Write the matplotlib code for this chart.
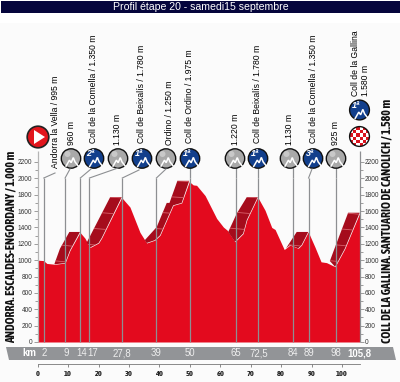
import numpy as np
import matplotlib
matplotlib.use("Agg")
import matplotlib.pyplot as plt
from matplotlib.patches import Circle, Polygon, Rectangle

W, H = 400, 382

# front outline of the profile
profile_km = [0, 1.9, 3, 5.7, 9, 10.6, 13.9, 15.5, 17.2, 20, 21, 27.6, 30.3, 33.6, 35.2, 35.8, 38.5, 40.2,
              44.5, 47.3, 49.8, 51.1, 52.2, 55, 58.8, 61, 62.3, 64.8, 67.5, 68.7, 72.3, 74.7, 76.9, 78,
              81, 82.9, 85.6, 86.7, 88.9, 91.1, 93.1, 94.9, 97.7, 100.9, 105.8]
profile_alt = [1000, 995, 960, 950, 965, 1120, 1340, 1270, 1155, 1210, 1270, 1765, 1650, 1340, 1245, 1210, 1245, 1305,
               1670, 1700, 1960, 1920, 1915, 1790, 1510, 1405, 1365, 1225, 1325, 1490, 1770, 1610, 1400, 1375,
               1130, 1185, 1145, 1185, 1345, 1160, 980, 970, 920, 1140, 1575]

# back edge of the dark climb ramps
ramp1_km, ramp1_alt = [5.5, 7.3, 10.4, 13.9], [955, 1140, 1345, 1345]
ramp2_km, ramp2_alt = [16.1, 23.8, 27.6], [1215, 1770, 1770]
ramp3_km, ramp3_alt = [35.2, 39.1, 42.4, 43.3, 45.9, 49.8], [1245, 1405, 1700, 1700, 1970, 1970]
ramp4_km, ramp4_alt = [62.6, 65.4, 68.7, 72.3], [1345, 1570, 1770, 1770]
ramp5_km, ramp5_alt = [81.6, 85.1, 88.9], [1145, 1345, 1345]
ramp6_km, ramp6_alt = [96, 97.1, 102, 105.8], [990, 1100, 1580, 1580]

point_km = [2, 9, 14, 17, 27.8, 39, 50, 65, 72.5, 84, 89, 98, 105.8]
point_labels = ['2', '9', '14', '17', '27,8', '39', '50', '65', '72,5', '84', '89', '98', '105,8']
label_nudge = [0.5, 1, 1, 3, 0, 0, 0, 0, 0, 0, 0, 0, 0]
icon_x = [71, 94, 118, 142, 166, 190, 235, 258, 290, 313, 336]
icon_cat = ['', '2ª', '', '1ª', '', '1ª', '', '1ª', '', '3ª', '']
names = ['960 m', 'Coll de la Comella / 1.350 m', '1.130 m', 'Coll de Beixalís / 1.780 m', 'Ordino / 1.250 m',
         'Coll de Ordino / 1.975 m', '1.220 m', 'Coll de Beixalís / 1.780 m', '1.130 m',
         'Coll de la Comella / 1.350 m', '925 m']
name_x = [71, 94, 118, 142, 169, 190, 235, 258, 290, 313, 335]

RED = '#e30a1e'
DARK = '#a50c1c'
BLUE = '#123f8c'
LINE = '#8d8f92'
NARROW = ['Asap Condensed', 'Liberation Sans']

fig = plt.figure(figsize=(W / 100, H / 100), dpi=100, facecolor='white')

# page tint and title bar
bg = fig.add_axes([0, 0, 1, 1], zorder=0)
bg.set_xlim(0, W)
bg.set_ylim(H, 0)
bg.axis('off')
bg.add_patch(Rectangle((0, 23), W, H - 23, color='#fbfbfb', lw=0))
bg.add_patch(Rectangle((1, 1), W - 1, 12, color='#05053c', lw=0))
bg.add_patch(Polygon([(6, 347), (393, 347), (396, 360), (9, 360)], color='#929497', lw=0))
bg.text(200.5, 7, 'Profil étape 20 - samedi15 septembre', color='white', ha='center', va='center',
        fontsize=7.55, family='Liberation Sans')

# main profile axes, pixel box is 37.7..359.7 / 162..342
ax = fig.add_axes([37.7 / W, 1 - 342 / H, 322 / W, 180 / H], zorder=2)
ax.patch.set_alpha(0)
ax.set_xlim(0, 105.8)
ax.set_ylim(0, 2200)
ax.fill_between(profile_km, profile_alt, 0, color=RED, lw=0, zorder=3)

ramps = [(ramp1_km, ramp1_alt), (ramp2_km, ramp2_alt), (ramp3_km, ramp3_alt),
         (ramp4_km, ramp4_alt), (ramp5_km, ramp5_alt), (ramp6_km, ramp6_alt)]
for rk, ra in ramps:
    # band runs along the back edge and returns along the front outline
    fk = [k for k in profile_km if rk[0] < k < rk[-1]]
    fa = [a for k, a in zip(profile_km, profile_alt) if rk[0] < k < rk[-1]]
    pts = list(zip(rk, ra)) + list(zip(fk[::-1], fa[::-1]))
    band = Polygon(pts, color=DARK, lw=0, zorder=4)
    ax.add_patch(band)
    for alt in range(200, 2200, 200):
        line, = ax.plot([rk[0] - 2, rk[-1] + 2], [alt, alt - 45], color='#d8606a', lw=0.6, zorder=5)
        line.set_clip_path(band)

ax.vlines(point_km, 0, 2000, color=LINE, lw=0.9, zorder=6, clip_on=False)
ax.vlines(0, 0, 2330, color='#b5b5b5', lw=0.9, zorder=6, clip_on=False)
ax.vlines([50, 65, 72.5, 84, 98], 2000, 2270, color=LINE, lw=0.9, zorder=6, clip_on=False)
ax.vlines(105.8, 2000, 2340, color=LINE, lw=0.9, zorder=6, clip_on=False)

for s in ['top', 'bottom', 'left', 'right']:
    ax.spines[s].set_visible(False)
ax.set_xticks([])
ax.set_yticks(np.arange(0, 2201, 200))
ax.set_yticks(np.arange(100, 2200, 200), minor=True)
ax.tick_params(axis='y', which='major', length=3, width=0.5, color='#777777', direction='out', labelsize=4.7,
               labelcolor='#333333', pad=0.8, labelright=True, right=True, left=True)
ax.tick_params(axis='y', which='minor', length=2, width=0.5, color='#777777', right=True, left=True)
for t in ax.get_yticklabels():
    t.set_family('Liberation Sans')

# km scale below the grey band
sc = fig.add_axes([37.7 / W, 1 - 364 / H, 322 / W, 0.001], zorder=2)
sc.patch.set_alpha(0)
sc.set_xlim(0, 105.8)
sc.set_yticks([])
for s in ['top', 'left', 'right']:
    sc.spines[s].set_visible(False)
sc.spines['bottom'].set_color('#777777')
sc.spines['bottom'].set_linewidth(0.6)
sc.set_xticks(np.arange(0, 101, 10))
sc.tick_params(axis='x', length=2, width=0.6, color='#777777', labelsize=6, pad=2, labelcolor='#222222')
for t in sc.get_xticklabels():
    t.set_family(NARROW)
    t.set_weight('bold')

# overlay in pixels for icons and labels
ov = fig.add_axes([0, 0, 1, 1], zorder=5)
ov.patch.set_alpha(0)
ov.set_xlim(0, W)
ov.set_ylim(H, 0)
ov.axis('off')


def kx(km):
    return 37.7 + km * 322 / 105.8


for km, lab, dx in zip(point_km, point_labels, label_nudge):
    last = lab == '105,8'
    ov.text(kx(km) + dx, 353.5, lab, color='white' if last else '#eeeeee', ha='center', va='center',
            fontsize=6.9, family='Liberation Sans', weight='bold' if last else 'normal')
ov.text(29, 353.5, 'km', color='white', ha='center', va='center', fontsize=6.9, weight='bold',
        family='Liberation Sans')

# slanted leaders from the vertical lines to the icons
leaders = [(2, 55, 173), (9, 70, 169), (14, 91, 169), (17, 118, 168), (27.8, 139, 170), (39, 166, 169), (89, 312, 169)]
for km, tx, ty in leaders:
    ov.plot([kx(km), tx], [178, ty], color=LINE, lw=0.8)


def mountain(x, y, scale=1.0):
    xs = np.array([-7, -3, -1, 1.5, 3.5, 7])
    ys = np.array([6, -1, 2, -4, 1, 5.5])
    ov.plot(x + xs * scale, y + ys * scale, color='white', lw=1.1, solid_joinstyle='miter')


for x, cat in zip(icon_x, icon_cat):
    ov.add_patch(Circle((x, 158.5), 9.7, fc=BLUE if cat else '#a9a9a9', ec='#111111', lw=1.0))
    if cat:
        mountain(x + 2, 161, 0.9)
        ov.text(x - 3.5, 153.5, cat, color='white', fontsize=6.4, weight='bold', style='italic',
                ha='center', va='center', family='Liberation Sans')
    else:
        ov.add_patch(Circle((x - 3.5, 154), 3, fc='#c8c8c8', lw=0))
        mountain(x + 1, 161, 0.85)

# start icon
ov.add_patch(Circle((38, 137), 10.8, fc='#e2161d', ec='#222222', lw=1.2))
ov.add_patch(Polygon([(34, 130), (34, 144), (45, 137)], fc='white', lw=0))

# finish icons
ov.add_patch(Circle((359.5, 110), 9.9, fc=BLUE, ec='#111111', lw=1.0))
mountain(361.5, 113, 0.9)
ov.text(356, 105.5, '1ª', color='white', fontsize=6.4, weight='bold', style='italic', ha='center', va='center',
        family='Liberation Sans')
clip = Circle((359.5, 136.5), 9.9, fc='white', ec='none')
ov.add_patch(clip)
for i in range(-4, 4):
    for j in range(-4, 4):
        if (i + j) % 2 == 0:
            r = Rectangle((359.5 + i * 3.4, 136.5 + j * 3.4), 3.4, 3.4, fc='#d9141e', lw=0)
            ov.add_patch(r)
            r.set_clip_path(clip)
ov.add_patch(Circle((359.5, 136.5), 9.9, fc='none', ec='#111111', lw=1.0))

# vertical labels
txt = dict(rotation=90, ha='center', va='bottom', fontsize=6.2, color='black', family='Liberation Sans')
ov.text(55, 168, 'Andorra la Vella / 995 m', **txt)
for x, name in zip(name_x, names):
    ov.text(x, 143 if name.startswith('Coll') else 145, name, **txt)
ov.text(355, 96, 'Coll de la Gallina', **txt)
ov.text(366, 96, '1.580 m', **txt)

big = dict(rotation=90, ha='center', va='bottom', fontsize=8.6, color='#111111', weight='bold', family=NARROW)
ov.text(11, 343, 'ANDORRA. ESCALDES-ENGORDANY / 1.000 m', **big)
ov.text(387.5, 343, 'COLL DE LA GALLINA. SANTUARIO DE CANOLICH / 1.580 m', **big)

fig.savefig('out.png', dpi=100, facecolor=fig.get_facecolor())
